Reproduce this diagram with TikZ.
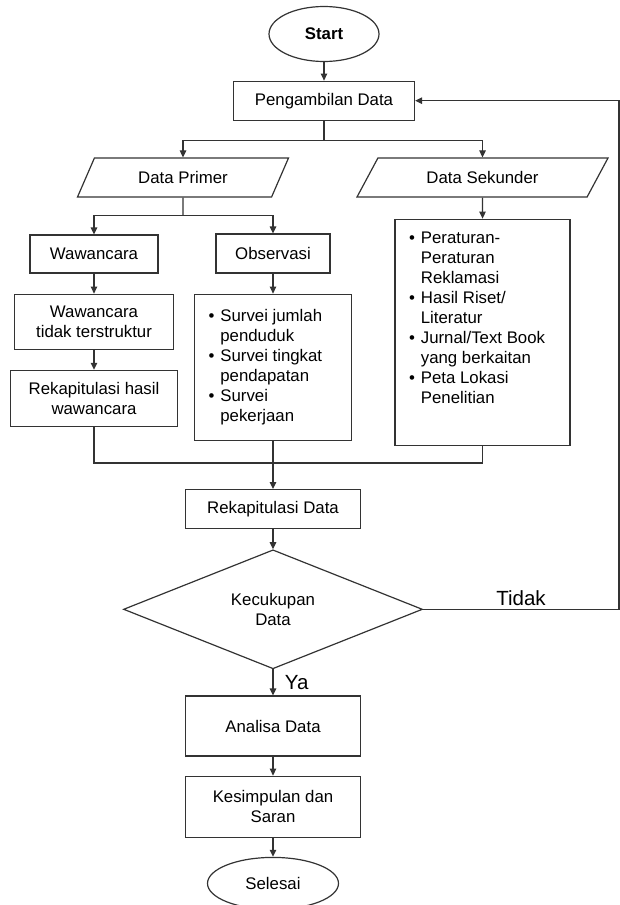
\documentclass[tikz,border=0pt]{standalone}
\usepackage{fontspec}
\setmainfont{Liberation Sans}
\usetikzlibrary{arrows.meta,positioning,shapes.geometric}

\begin{document}
\begin{tikzpicture}[
    font=\fontsize{16.8pt}{20pt}\selectfont,
    >={Triangle[length=7pt,width=6.5pt]},
    wire/.style={draw=black!80, line width=1.2pt},
    box/.style={rectangle, wire, align=center, inner sep=2pt},
    listbox/.style={rectangle, wire, inner xsep=14pt, inner ysep=10pt},
    termbox/.style={ellipse, wire, inner sep=0pt},
    iobox/.style={trapezium, wire, trapezium stretches body, minimum height=39pt, inner sep=2pt},
    decision/.style={diamond, wire, aspect=2.5, inner sep=0pt, align=center},
    flow/.style={->, wire},
    lbl/.style={font=\fontsize{20.5pt}{24pt}\selectfont}
  ]
    \useasboundingbox (0pt,0pt) rectangle (620pt,-905pt);
    \node[termbox, minimum width=110pt, minimum height=55pt] (startbox) at (324pt,-34pt) {\textbf{Start}};
    \node[box, minimum width=181pt, minimum height=39pt, below=18.5pt of startbox] (ambilbox) {Pengambilan Data};
    \node[iobox, trapezium left angle=44, trapezium right angle=136, minimum width=211pt] (primerbox) at (183pt,-177.5pt) {Data Primer};
    \node[iobox, trapezium left angle=38, trapezium right angle=142, minimum width=251pt] (sekunderbox) at (482.5pt,-177.5pt) {Data Sekunder};
    \node[box, minimum width=128pt, minimum height=38pt] (wawanbox) at (94pt,-254pt) {Wawancara};
    \node[box, minimum width=114pt, minimum height=39pt] (obsbox) at (273pt,-253.5pt) {Observasi};
    \node[box, minimum width=159pt, minimum height=55pt, below=20pt of wawanbox] (tdkbox) {Wawancara\\tidak terstruktur};
    \node[box, minimum width=167pt, minimum height=56pt, below=20pt of tdkbox] (rekhbox) {Rekapitulasi hasil\\wawancara};
    \node[listbox, below=20pt of obsbox] (obsdbox) {\begin{minipage}[t][126pt][c]{129pt}
      \begin{tabular}{@{}l@{\hspace{6pt}}l@{}}
        \textbullet & Survei jumlah\\
                    & penduduk\\
        \textbullet & Survei tingkat\\
                    & pendapatan\\
        \textbullet & Survei\\
                    & pekerjaan
      \end{tabular}\end{minipage}};
    \node[listbox, below=21pt of sekunderbox] (sekdbox) {\begin{minipage}[t][206pt][t]{147pt}
      \begin{tabular}{@{}l@{\hspace{6pt}}l@{}}
        \textbullet & Peraturan-\\
                    & Peraturan\\
                    & Reklamasi\\
        \textbullet & Hasil Riset/\\
                    & Literatur\\
        \textbullet & Jurnal/Text Book\\
                    & yang berkaitan\\
        \textbullet & Peta Lokasi\\
                    & Penelitian
      \end{tabular}\end{minipage}};
    \coordinate (join) at (273pt,-463pt);
    \coordinate (back) at (619pt,0pt);
    \node[box, minimum width=175pt, minimum height=39pt, below=26pt of join] (rekdbox) {Rekapitulasi Data};
    \node[decision, minimum width=299pt, minimum height=119pt, below=20pt of rekdbox] (cekbox) {Kecukupan\\Data};
    \node[box, minimum width=175pt, minimum height=60pt, below=26pt of cekbox] (anbox) {Analisa Data};
    \node[box, minimum width=175pt, minimum height=61pt, below=19pt of anbox] (kesbox) {Kesimpulan dan\\Saran};
    \node[termbox, minimum width=131pt, minimum height=52pt, below=19pt of kesbox] (endbox) {Selesai};
    \draw[flow] (startbox) -- (ambilbox);
    \coordinate[below=20pt of ambilbox] (split1);
    \draw[wire] (ambilbox) -- (split1);
    \draw[flow] (split1) -| (primerbox);
    \draw[flow] (split1) -| (sekunderbox);
    \coordinate[below=18pt of primerbox] (split2);
    \draw[wire] (primerbox) -- (split2);
    \draw[flow] (split2) -| (wawanbox);
    \draw[flow] (split2) -| (obsbox);
    \draw[flow] (wawanbox) -- (tdkbox);
    \draw[flow] (tdkbox) -- (rekhbox);
    \draw[flow] (obsbox) -- (obsdbox);
    \draw[flow] (sekunderbox) -- (sekdbox);
    \draw[wire] (rekhbox) |- (join);
    \draw[wire] (sekdbox) |- (join);
    \draw[wire] (obsdbox) -- (join);
    \draw[flow] (join) -- (rekdbox);
    \draw[flow] (rekdbox) -- (cekbox);
    \draw[flow] (cekbox) -- node[lbl, right=8pt] {Ya} (anbox);
    \draw[flow] (anbox) -- (kesbox);
    \draw[flow] (kesbox) -- (endbox);
    \draw[flow] (cekbox.east) -- node[lbl, above] {Tidak} (cekbox.east -| back) |- (ambilbox.east);
  \end{tikzpicture}
\end{document}
